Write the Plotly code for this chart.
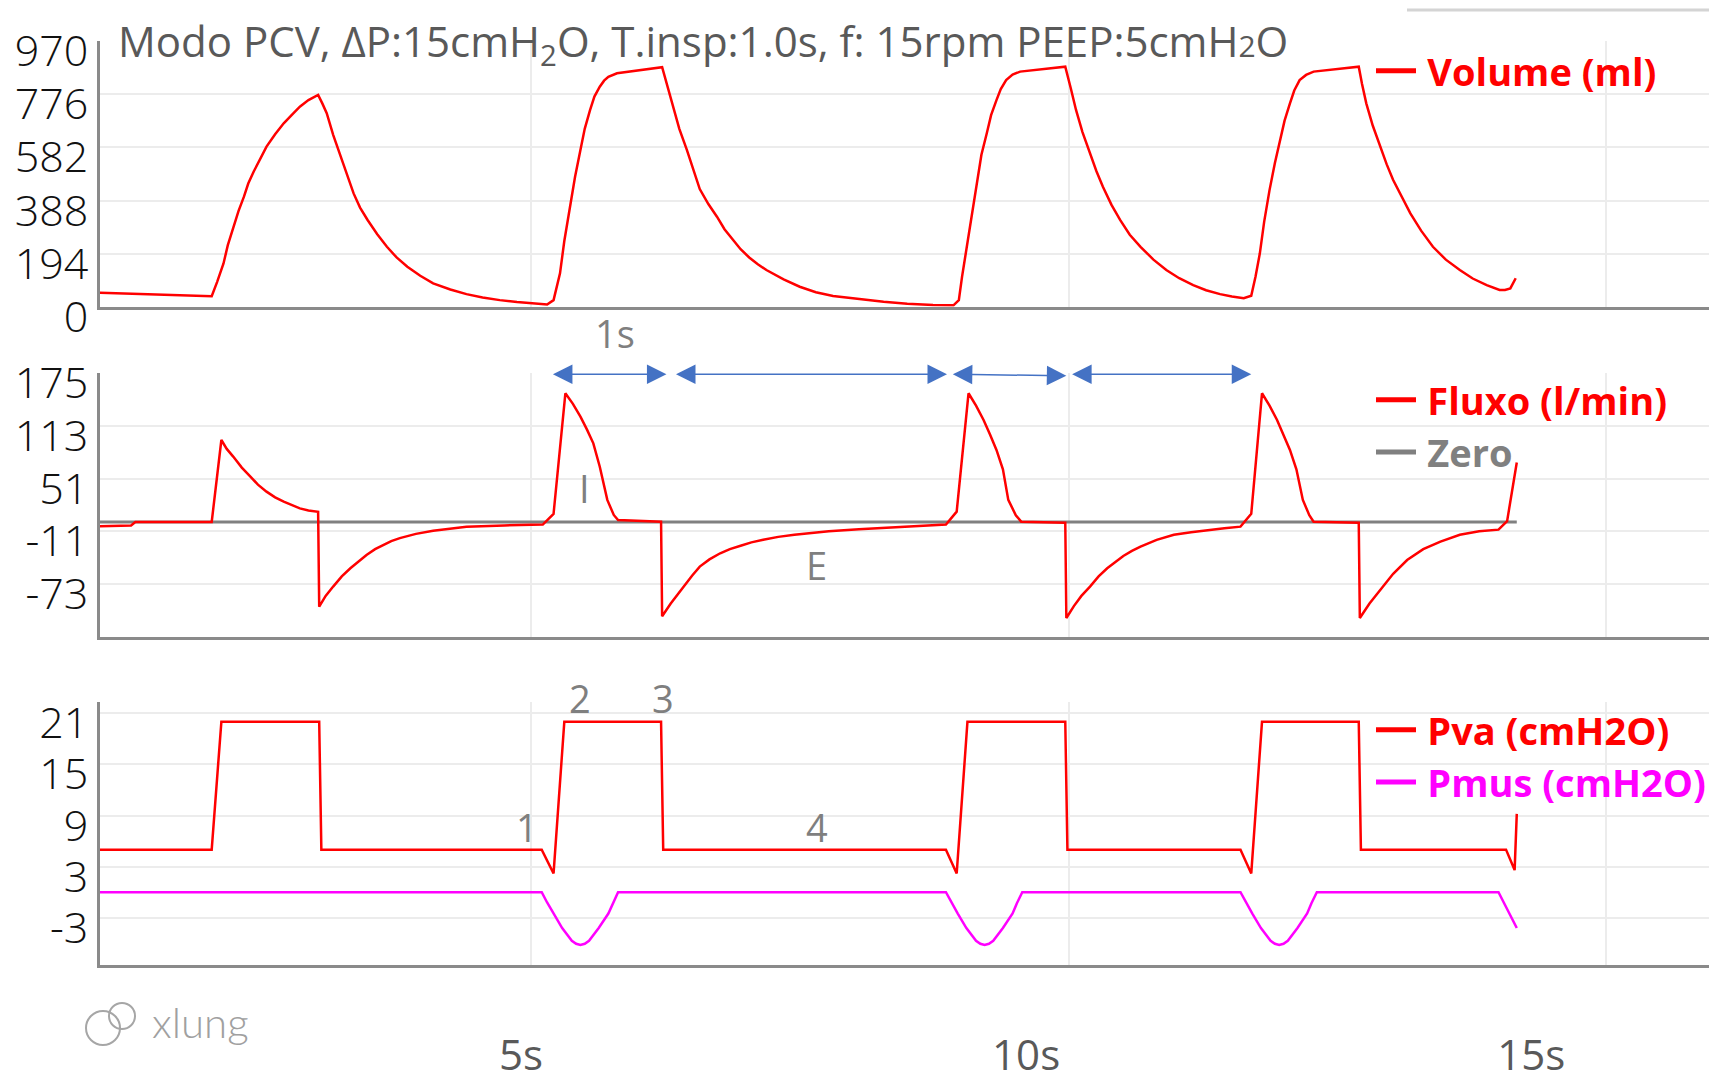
import plotly.graph_objects as go

# ---------------- data (time in s) ----------------
vol_t = [0.99, 1.5, 2.03, 2.08, 2.14, 2.18, 2.23, 2.28, 2.33, 2.37, 2.42, 2.48, 2.54, 2.62, 2.70,
         2.78, 2.85, 2.93, 3.02,
         3.06, 3.10, 3.16, 3.23, 3.29, 3.35, 3.41, 3.48, 3.57, 3.66, 3.75, 3.85, 3.97, 4.09,
         4.25, 4.40, 4.55, 4.71, 4.87, 5.02, 5.15,
         5.21, 5.24, 5.27, 5.31, 5.36, 5.41, 5.46, 5.50, 5.55, 5.59, 5.64, 5.68, 5.72, 5.80, 6.22,
         6.27, 6.32, 6.38, 6.45, 6.51, 6.57, 6.65, 6.73, 6.80, 6.88, 6.95, 7.03, 7.11, 7.19,
         7.35, 7.50, 7.65, 7.81, 8.05, 8.28, 8.50, 8.74, 8.93,
         8.98, 9.01, 9.05, 9.10, 9.15, 9.19, 9.24, 9.28, 9.33, 9.37, 9.42, 9.48, 9.55, 9.97,
         10.02, 10.07, 10.13, 10.20, 10.26, 10.32, 10.40, 10.48, 10.57, 10.67, 10.79, 10.91,
         11.03, 11.16, 11.28, 11.41, 11.52, 11.63, 11.70,
         11.74, 11.78, 11.82, 11.87, 11.92, 11.97, 12.01, 12.06, 12.10, 12.15, 12.21, 12.28, 12.70,
         12.73, 12.77, 12.83, 12.90, 12.96, 13.02, 13.10, 13.18, 13.28, 13.39, 13.51, 13.64,
         13.76, 13.89, 14.01, 14.06, 14.11, 14.16]
vol_v = [51, 45, 38, 90, 158, 225, 292, 350, 402, 450, 493, 540, 585, 630, 670,
         703, 731, 755, 774,
         742, 707, 628, 548, 478, 414, 362, 317, 265, 219, 180, 146, 113, 85,
         63, 46, 34, 24, 17, 12, 8,
         24, 70, 122, 240, 365, 475, 573, 650, 719, 768, 804, 826, 840, 853, 875,
         806, 731, 650, 573, 497, 430, 375, 329, 283, 244, 210, 180, 155, 134,
         100, 73, 53, 39, 27, 18, 11, 6, 5,
         24, 110, 207, 335, 463, 555, 634, 700, 755, 795, 828, 848, 859, 877,
         800, 719, 638, 561, 495, 438, 372, 317, 263, 219, 172, 134,
         104, 79, 60, 46, 37, 31, 40,
         110, 195, 310, 426, 525, 609, 680, 743, 790, 828, 847, 859, 877,
         815, 743, 662, 585, 520, 463, 400, 341, 278, 219, 172, 134,
         103, 79, 61, 61, 67, 104]

flow_t = [0.99, 1.28, 1.32, 2.03, 2.12, 2.17, 2.23, 2.31, 2.39, 2.46, 2.54, 2.62, 2.70, 2.78,
          2.85, 2.93, 3.02,
          3.03, 3.09, 3.16, 3.24, 3.32, 3.40, 3.47, 3.55, 3.63, 3.70, 3.78, 3.93, 4.09, 4.25,
          4.40, 4.75, 5.11,
          5.21, 5.32, 5.39, 5.46, 5.52, 5.58, 5.64, 5.71, 5.77, 5.81, 6.21,
          6.22, 6.30, 6.36, 6.42, 6.50, 6.57, 6.66, 6.76, 6.85, 6.95, 7.05, 7.16, 7.30, 7.45,
          7.60, 7.77, 8.05, 8.37, 8.60, 8.86,
          8.96, 9.07, 9.14, 9.21, 9.27, 9.33, 9.39, 9.44, 9.51, 9.56, 9.97,
          9.98, 10.05, 10.12, 10.20, 10.28, 10.36, 10.44, 10.51, 10.59, 10.67, 10.82, 10.98,
          11.14, 11.29, 11.45, 11.60,
          11.70, 11.80, 11.87, 11.94, 12.00, 12.06, 12.12, 12.18, 12.24, 12.28, 12.70,
          12.71, 12.80, 12.90, 13.02, 13.15, 13.30, 13.46, 13.64, 13.82, 14.00, 14.08, 14.17]
flow_v = [-5, -4, 0, 0, 96.5, 86, 77, 64, 53.4, 44, 35.7, 29, 24, 19.5,
          16, 13.5, 12,
          -99.6, -87, -76, -64, -54.4, -46, -38.8, -32, -27, -22.5, -19, -14, -10.2, -7.5,
          -5.5, -4, -3,
          9.6, 151.5, 139, 124, 109, 92.6, 65, 26, 8.3, 2.4, 0.4,
          -111, -96, -86, -76, -63, -52.5, -44, -36.8, -32, -28, -24, -21, -17.5, -15,
          -13, -11, -8.5, -6.5, -5, -3,
          12.2, 151.5, 137, 120, 103, 84.8, 62, 26, 8, 0.4, -0.8,
          -113, -99, -87, -76, -64, -54.4, -47, -40, -34, -29, -21, -15,
          -12, -9.4, -7.3, -5.5,
          9.6, 151.5, 137, 120, 103, 84.8, 62, 26, 8, 0.4, -0.8,
          -113, -96, -80, -61, -44.8, -32, -23, -15, -11, -9, 1, 70]

zero_t = [0.99, 14.17]
zero_v = [0, 0]

pva_t = [0.99, 2.03, 2.12, 3.03, 3.05, 5.10, 5.21, 5.31, 6.21, 6.23,
         8.86, 8.96, 9.06, 9.97, 9.99, 11.60, 11.70, 11.80, 12.70, 12.72,
         14.07, 14.15, 14.17]
pva_v = [5, 5, 20, 20, 5, 5, 2.2, 20, 20, 5,
         5, 2.2, 20, 20, 5, 5, 2.2, 20, 20, 5,
         5, 2.6, 9.2]

pmus_t = [0.99,
          5.10, 5.15, 5.21, 5.29, 5.38, 5.42, 5.46, 5.50, 5.54, 5.63, 5.72, 5.76, 5.81,
          8.86, 8.91, 8.97, 9.05, 9.14, 9.18, 9.22, 9.26, 9.30, 9.39, 9.48, 9.52, 9.57,
          11.60, 11.65, 11.71, 11.79, 11.88, 11.92, 11.96, 12.00, 12.04, 12.13, 12.22, 12.26, 12.31,
          14.00, 14.17]
pmus_v = [0,
          0, -1.2, -2.5, -4.2, -5.7, -6.05, -6.2, -6.05, -5.7, -4.2, -2.5, -1.3, 0,
          0, -1.2, -2.5, -4.2, -5.7, -6.05, -6.2, -6.05, -5.7, -4.2, -2.5, -1.3, 0,
          0, -1.2, -2.5, -4.2, -5.7, -6.05, -6.2, -6.05, -5.7, -4.2, -2.5, -1.3, 0,
          0, -4.2]

vol_ticks = [0, 194, 388, 582, 776, 970]
flow_ticks = [-73, -11, 51, 113, 175]
pres_ticks = [-3, 3, 9, 15, 21]
time_ticks = [5, 10, 15]
time_labels = ["5s", "10s", "15s"]

# inspiratory / expiratory time spans marked with double arrows (s)
span_start = [5.19, 6.335, 8.91, 10.02]
span_end = [6.26, 8.87, 9.98, 11.70]
span_y0 = [174, 174, 174, 174]
span_y1 = [174, 174, 172, 174]

# ---------------- styling ----------------
W, H = 1709, 1085
RED = "#ff0000"
MAG = "#ff00ff"
GRAYZ = "#808080"
AXC = "#8a8a8a"
GRID = "#ececec"
TXT = "#7f7f7f"

def px(x):
    return x / W

def py(y):
    return 1 - y / H

fig = go.Figure()

fig.add_trace(go.Scatter(x=vol_t, y=vol_v, mode="lines", line=dict(color=RED, width=2.5),
                         xaxis="x", yaxis="y", showlegend=False, hoverinfo="skip"))
fig.add_trace(go.Scatter(x=zero_t, y=zero_v, mode="lines", line=dict(color=GRAYZ, width=3),
                         xaxis="x2", yaxis="y2", showlegend=False, hoverinfo="skip"))
fig.add_trace(go.Scatter(x=flow_t, y=flow_v, mode="lines", line=dict(color=RED, width=2.5),
                         xaxis="x2", yaxis="y2", showlegend=False, hoverinfo="skip"))
fig.add_trace(go.Scatter(x=pva_t, y=pva_v, mode="lines", line=dict(color=RED, width=2.5),
                         xaxis="x3", yaxis="y3", showlegend=False, hoverinfo="skip"))
fig.add_trace(go.Scatter(x=pmus_t, y=pmus_v, mode="lines", line=dict(color=MAG, width=2.5),
                         xaxis="x3", yaxis="y3", showlegend=False, hoverinfo="skip"))
# carrier for the time label axis
fig.add_trace(go.Scatter(x=[None], y=[None], xaxis="x4", yaxis="y3", showlegend=False,
                         hoverinfo="skip"))

legend_items = [("Volume (ml)", RED, "legend", "x", "y"),
                ("Fluxo (l/min)", RED, "legend2", "x2", "y2"),
                ("Zero", GRAYZ, "legend2", "x2", "y2"),
                ("Pva (cmH2O)", RED, "legend3", "x3", "y3"),
                ("Pmus (cmH2O)", MAG, "legend3", "x3", "y3")]
for name, col, lg, xa, ya in legend_items:
    fig.add_trace(go.Scatter(x=[None], y=[None], mode="lines", line=dict(color=col, width=5),
                             name=f"<b><span style='color:{col}'>\u2009{name}</span></b>",
                             legend=lg, xaxis=xa, yaxis=ya, hoverinfo="skip"))

xcommon = dict(range=[0.991, 15.958], domain=[px(100), 1], showline=True, linecolor=AXC,
               linewidth=3, showgrid=True, gridcolor=GRID, gridwidth=2, tick0=0, dtick=5,
               showticklabels=False, ticks="", zeroline=False, automargin=False)
tickfont = dict(family="Open Sans", size=43, color="#111111", weight=300)

def ycommon(rng, dom, tv):
    return dict(range=rng, domain=dom, showline=True, linecolor=AXC, linewidth=3,
                showgrid=True, gridcolor=GRID, gridwidth=2, tickvals=tv,
                ticktext=[str(v) for v in tv], tickfont=tickfont, ticks="",
                ticklabelshift=10, ticklabelstandoff=0, zeroline=False, automargin=False)

legend_font = dict(family="Open Sans", size=38)
legend_common = dict(xanchor="left", yanchor="middle", bgcolor="rgba(0,0,0,0)",
                     font=legend_font, tracegroupgap=0, borderwidth=0, itemwidth=40)

ann = []
title = ("Modo PCV, ΔP:15cmH<sub>2</sub>O, T.insp:1.0s, f: 15rpm "
         "PEEP:5cmH<span style='font-size:30px'>2</span>O")
ann.append(dict(xref="paper", yref="paper", x=px(116), y=py(43), xanchor="left",
                yanchor="middle", text=title, showarrow=False,
                font=dict(family="Open Sans", size=42, color="#595959")))
for txt, x, y in [("1s", 615, 333), ("I", 584, 488), ("E", 816, 565), ("1", 527, 827),
                  ("2", 580, 698), ("3", 663, 698), ("4", 817, 827)]:
    ann.append(dict(xref="paper", yref="paper", x=px(x), y=py(y), xanchor="center",
                    yanchor="middle", text=txt, showarrow=False,
                    font=dict(family="Open Sans", size=38, color=TXT)))
for s, e, y0, y1 in zip(span_start, span_end, span_y0, span_y1):
    ann.append(dict(xref="x2", yref="y2", axref="x2", ayref="y2", x=e, y=y1, ax=s, ay=y0,
                    text="", showarrow=True, arrowside="end+start", arrowhead=2,
                    startarrowhead=2, arrowsize=2.6, startarrowsize=2.6, arrowwidth=1.5,
                    arrowcolor="#4472c4", standoff=0, startstandoff=0))
ann.append(dict(xref="paper", yref="paper", x=px(150), y=py(1022), xanchor="left",
                yanchor="middle", text="xlung", showarrow=False,
                font=dict(family="Lato", size=42, color="#a0a0a0", weight=300)))

shapes = [
    dict(type="circle", xref="paper", yref="paper", x0=px(86), x1=px(120), y0=py(1045),
         y1=py(1011), line=dict(color="#a6a6a6", width=2)),
    dict(type="circle", xref="paper", yref="paper", x0=px(109), x1=px(135), y0=py(1029),
         y1=py(1003), line=dict(color="#a6a6a6", width=2)),
    dict(type="line", xref="paper", yref="paper", x0=px(1407), x1=1, y0=py(10), y1=py(10),
         line=dict(color="#d4d4d4", width=3)),
]

fig.update_layout(
    width=W, height=H, margin=dict(l=0, r=0, t=0, b=0, autoexpand=False),
    paper_bgcolor="white", plot_bgcolor="white",
    xaxis=dict(anchor="y", **xcommon),
    xaxis2=dict(anchor="y2", matches="x", **xcommon),
    xaxis3=dict(anchor="y3", matches="x", **xcommon),
    xaxis4=dict(overlaying="x3", anchor="free", position=0.053, range=[0.832, 16.76],
                tickvals=time_ticks, ticktext=time_labels, showline=False, showgrid=False,
                zeroline=False, ticks="", automargin=False,
                tickfont=dict(family="Open Sans", size=42, color="#595959")),
    yaxis=dict(anchor="x", **ycommon([0, 972], [py(306.7), py(40.7)], vol_ticks)),
    yaxis2=dict(anchor="x2", **ycommon([-135, 175], [py(636.7), py(373.3)], flow_ticks)),
    yaxis3=dict(anchor="x3", **ycommon([-8.54, 22.36], [py(965), py(701.7)], pres_ticks)),
    legend=dict(x=px(1371), y=py(71), **legend_common),
    legend2=dict(x=px(1371), y=py(426), **legend_common),
    legend3=dict(x=px(1371), y=py(756), **legend_common),
    annotations=ann, shapes=shapes,
    hovermode=False,
)

fig.write_html("out.html", config={"displayModeBar": False},
               post_script="document.body.style.margin='0';document.body.style.overflow='hidden';")
